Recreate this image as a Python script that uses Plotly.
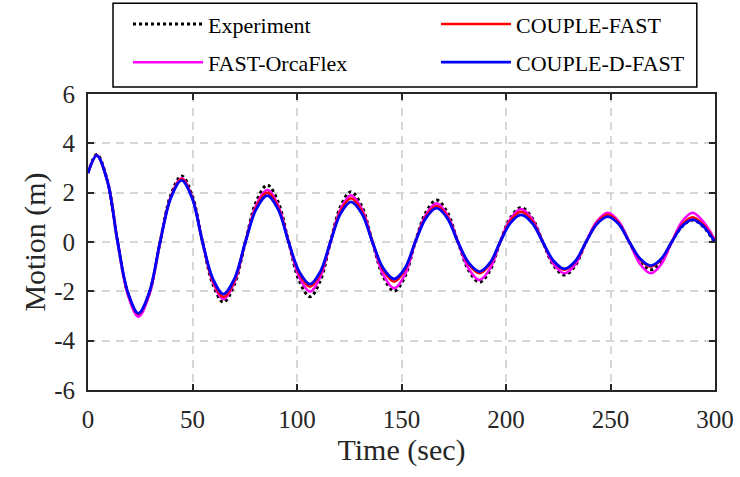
import plotly.graph_objects as go

# Time samples (s): start, extrema, eighth-period points and zero crossings
time_s = [0, 4.2, 9.2, 14.2, 19.1, 24.1, 29.3, 34.5, 39.6, 44.8, 49.8, 54.8, 59.8,
          64.8, 70.0, 75.3, 80.5, 85.8, 90.9, 96.0, 101.1, 106.2, 111.1, 116.0,
          120.9, 125.8, 131.0, 136.1, 141.3, 146.5, 151.6, 156.6, 161.7, 166.8,
          171.9, 177.0, 182.2, 187.3, 192.3, 197.2, 202.2, 207.2, 212.4, 217.6,
          222.8, 228.0, 233.2, 238.3, 243.5, 248.7, 253.9, 259.0, 264.2, 269.3,
          274.3, 279.3, 284.3, 289.3, 294.3, 300]

experiment = [2.80, 3.55, 2.52, 0, -2.09, -2.95, -2.09, 0, 1.90, 2.68, 1.90, 0,
              -1.73, -2.44, -1.73, 0, 1.64, 2.31, 1.64, 0, -1.58, -2.22, -1.58, 0,
              1.45, 2.04, 1.45, 0, -1.41, -1.99, -1.41, 0, 1.21, 1.70, 1.21, 0,
              -1.16, -1.63, -1.16, 0, 0.99, 1.40, 0.99, 0, -0.95, -1.34, -0.95, 0,
              0.78, 1.10, 0.78, 0, -0.80, -1.13, -0.80, 0, 0.63, 0.89, 0.63, -0.05]
couple_fast = [2.80, 3.50, 2.49, 0, -2.07, -2.92, -2.07, 0, 1.81, 2.55, 1.81, 0,
               -1.58, -2.22, -1.58, 0, 1.42, 2.00, 1.42, 0, -1.29, -1.81, -1.29, 0,
               1.26, 1.77, 1.26, 0, -1.14, -1.61, -1.14, 0, 1.04, 1.46, 1.04, 0,
               -0.90, -1.27, -0.90, 0, 0.87, 1.23, 0.87, 0, -0.80, -1.13, -0.80, 0,
               0.78, 1.10, 0.78, 0, -0.71, -1.00, -0.71, 0, 0.71, 1.00, 0.71, 0.03]
fast_orcaflex = [2.80, 3.52, 2.50, 0, -2.15, -3.03, -2.15, 0, 1.83, 2.58, 1.83, 0,
                 -1.64, -2.31, -1.64, 0, 1.50, 2.11, 1.50, 0, -1.43, -2.01, -1.43, 0,
                 1.35, 1.90, 1.35, 0, -1.33, -1.88, -1.33, 0, 1.11, 1.57, 1.11, 0,
                 -1.09, -1.54, -1.09, 0, 0.95, 1.34, 0.95, 0, -0.90, -1.27, -0.90, 0,
                 0.84, 1.19, 0.84, 0, -0.90, -1.27, -0.90, 0, 0.84, 1.19, 0.84, 0.08]
couple_d_fast = [2.80, 3.50, 2.49, 0, -2.05, -2.89, -2.05, 0, 1.78, 2.50, 1.78, 0,
                 -1.50, -2.11, -1.50, 0, 1.33, 1.88, 1.33, 0, -1.21, -1.71, -1.21, 0,
                 1.16, 1.63, 1.16, 0, -1.07, -1.50, -1.07, 0, 0.97, 1.37, 0.97, 0,
                 -0.85, -1.20, -0.85, 0, 0.78, 1.10, 0.78, 0, -0.77, -1.09, -0.77, 0,
                 0.73, 1.03, 0.73, 0, -0.68, -0.96, -0.68, 0, 0.65, 0.91, 0.65, 0.00]

x_ticks = [0, 50, 100, 150, 200, 250, 300]
y_ticks = [-6, -4, -2, 0, 2, 4, 6]
y_tick_text = ["-6", "-4", "-2", "0", "2", "4", "6"]

FONT = "Liberation Serif, serif"

fig = go.Figure()
series = [
    ("Experiment", experiment, dict(color="black", width=3, dash="dot"), "legend"),
    ("FAST-OrcaFlex", fast_orcaflex, dict(color="#FF00FF", width=2.5), "legend2"),
    ("COUPLE-FAST", couple_fast, dict(color="#FF0000", width=2.5), "legend3"),
    ("COUPLE-D-FAST", couple_d_fast, dict(color="#0000FF", width=2.8), "legend4"),
]
for name, vals, line, leg in series:
    line = dict(line, shape="spline", smoothing=1.0)
    fig.add_trace(go.Scatter(x=time_s, y=vals, mode="lines", name=name,
                             line=line, legend=leg))

axis_common = dict(
    showline=True, linecolor="#262626", linewidth=2, mirror="allticks",
    ticks="inside", ticklen=6, tickwidth=2, tickcolor="#262626",
    showgrid=True, gridcolor="#d6d6d6", gridwidth=1.5, griddash="8px,6px",
    zeroline=False, tickfont=dict(family=FONT, size=25, color="#262626"),
    title_font=dict(family=FONT, size=30, color="#262626"),
)
fig.update_xaxes(range=[0, 300], tickvals=x_ticks, title_text="Time (sec)",
                 ticklabelstandoff=6, title_standoff=0, **axis_common)
fig.update_yaxes(range=[-6, 6], tickvals=y_ticks, ticktext=y_tick_text,
                 title_text="Motion (m)", ticklabelstandoff=6, title_standoff=0,
                 **axis_common)

leg_common = dict(font=dict(family=FONT, size=22, color="black"),
                  bgcolor="rgba(0,0,0,0)", borderwidth=0,
                  xanchor="left", yanchor="middle", itemwidth=70)
col1 = 0.0638
col2 = 0.555
row1 = 1.236
row2 = 1.107
fig.update_layout(
    legend=dict(x=col1, y=row1, **leg_common),
    legend2=dict(x=col1, y=row2, **leg_common),
    legend3=dict(x=col2, y=row1, **leg_common),
    legend4=dict(x=col2, y=row2, **leg_common),
)
fig.add_shape(type="rect", xref="paper", yref="paper",
              x0=0.0399, x1=0.971, y0=1.0236, y1=1.307,
              line=dict(color="black", width=1.5), fillcolor="rgba(0,0,0,0)")

fig.update_layout(
    width=740, height=477,
    margin=dict(l=88, r=25, t=94, b=87, autoexpand=False),
    paper_bgcolor="white", plot_bgcolor="white",
    showlegend=True,
)
fig.write_html("out.html")
